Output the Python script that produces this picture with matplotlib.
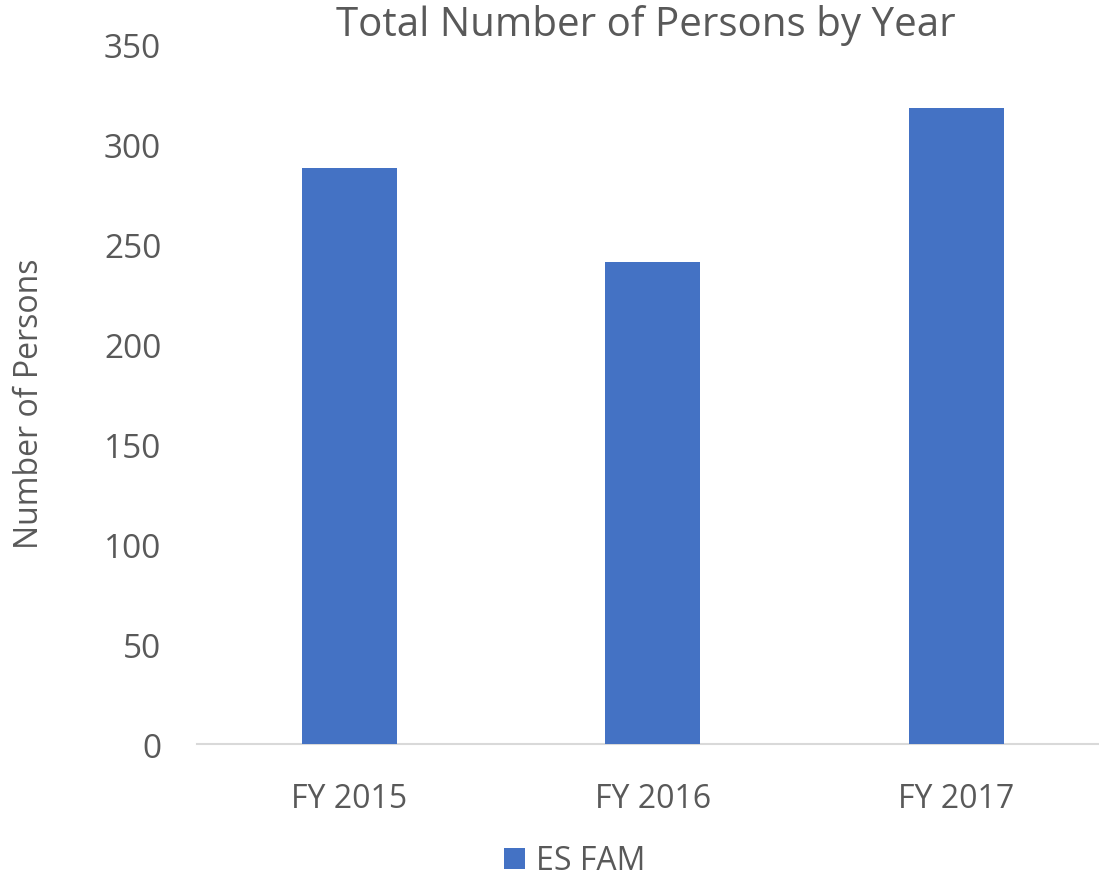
import matplotlib
matplotlib.use("Agg")
import matplotlib.pyplot as plt
import numpy as np

years = ['FY 2015', 'FY 2016', 'FY 2017']
persons = [288, 241, 318]
series_name = 'ES FAM'

plt.rcParams['font.family'] = ['Open Sans', 'DejaVu Sans']
text_color = '#595959'

fig = plt.figure(figsize=(10.99, 8.79), dpi=100)
ax = fig.add_axes([197.4 / 1099, 1 - 745.3 / 879, 911 / 1099, 700 / 879])

index = np.arange(len(years))
ax.bar(index, persons, width=0.313, color='#4472C4', label=series_name, zorder=3)

ax.set_xlim(-0.5, 2.5)
ax.set_ylim(0, 350)
ax.set_yticks(np.arange(0, 351, 50))
ax.set_xticks(index)
ax.set_xticklabels(years)
ax.tick_params(axis='both', length=0, colors=text_color)
ax.tick_params(axis='y', pad=26, labelsize=24)
ax.tick_params(axis='x', pad=27, labelsize=23)

for side in ['top', 'right', 'left']:
    ax.spines[side].set_visible(False)
ax.spines['bottom'].set_color('#d9d9d9')
ax.spines['bottom'].set_linewidth(1.5)

fig.text(646 / 1099, 1 - 26 / 879, 'Total Number of Persons by Year', ha='center', va='center',
         fontsize=29, color=text_color)
fig.text(30 / 1099, 1 - 404 / 879, 'Number of Persons', rotation=90, ha='center', va='center',
         fontsize=23, color=text_color)

leg = fig.legend(loc='center', bbox_to_anchor=(575 / 1099, 1 - 862 / 879), frameon=False,
                 fontsize=23, handlelength=0.65, handleheight=0.65, handletextpad=0.35)
for t in leg.get_texts():
    t.set_color(text_color)

fig.savefig('out.png', dpi=100)
